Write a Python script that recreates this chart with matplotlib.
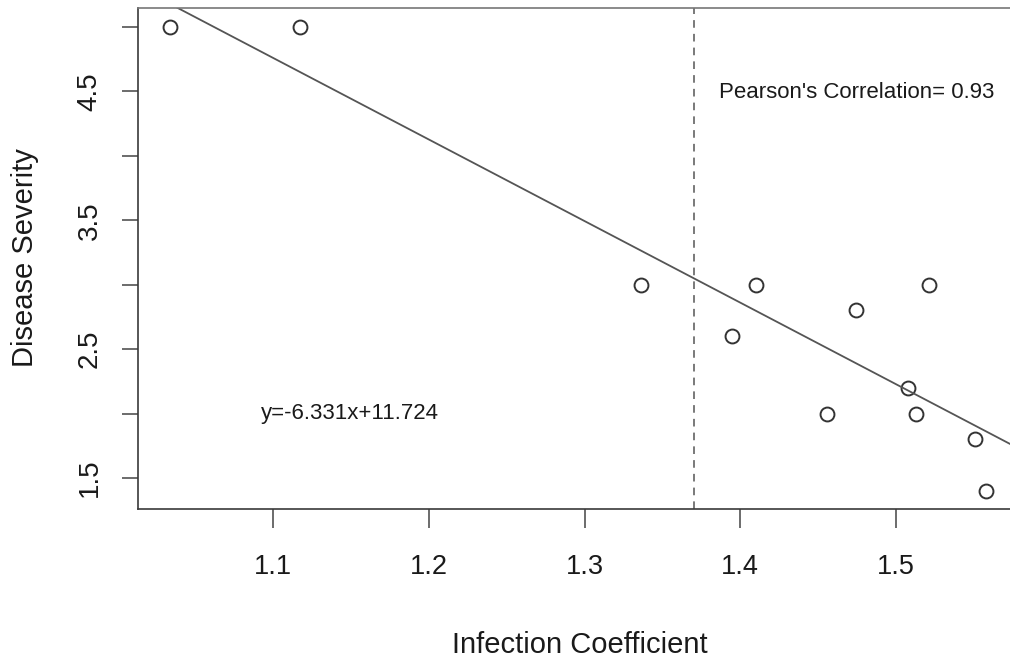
import matplotlib.pyplot as plt

plt.rcParams['font.family'] = ['Liberation Sans', 'DejaVu Sans']

# data
infection = [1.034, 1.117, 1.336, 1.395, 1.410, 1.456, 1.474, 1.508, 1.513, 1.521, 1.551, 1.558]
severity = [5.0, 5.0, 3.0, 2.6, 3.0, 2.0, 2.8, 2.2, 2.0, 3.0, 1.8, 1.4]

slope = -6.331
intercept = 11.724
cutoff = 1.37

x_ticks = [1.1, 1.2, 1.3, 1.4, 1.5]
y_ticks = [1.5, 2.0, 2.5, 3.0, 3.5, 4.0, 4.5, 5.0]
y_tick_labels = ["1.5", "", "2.5", "", "3.5", "", "4.5", ""]

text_color = "#1a1a1a"

fig = plt.figure(figsize=(10.1, 6.6), dpi=100)
ax = fig.add_axes([138 / 1010, 1 - 509 / 660, 872 / 1010, 501 / 660])

ax.set_xlim(1.0133, 1.5732)
ax.set_ylim(1.259, 5.147)

ax.plot(infection, severity, linestyle="none", marker="o",
        markersize=10, markerfacecolor="none", markeredgecolor="#333333",
        markeredgewidth=1.4)

# regression line (abline style)
xl = ax.get_xlim()
ax.plot(xl, [intercept + slope * x for x in xl], color="#555555", linewidth=1.3)
ax.set_xlim(xl)

ax.axvline(cutoff, color="#555555", linewidth=1.1, linestyle=(0, (5, 4)))

ax.text(1.475, 4.488, "Pearson's Correlation= 0.93", ha="center", va="center",
        fontsize=16, color=text_color)
ax.text(1.1494, 2.004, "y=-6.331x+11.724", ha="center", va="center",
        fontsize=16, color=text_color)

ax.set_xticks(x_ticks)
ax.set_xticklabels([f"{t:.1f}" for t in x_ticks])
ax.set_yticks(y_ticks)
ax.set_yticklabels(y_tick_labels, rotation=90, va="center")

ax.tick_params(axis="x", length=13.7, width=1.1, pad=19, labelsize=19.5,
               color="#444444", labelcolor=text_color)
ax.tick_params(axis="y", length=11.5, width=1.1, pad=14, labelsize=20,
               color="#444444", labelcolor=text_color)

ax.spines["right"].set_visible(False)
ax.spines["top"].set_color("#777777")
ax.spines["left"].set_color("#3a3a3a")
ax.spines["bottom"].set_color("#3a3a3a")
for s in ax.spines.values():
    s.set_linewidth(1.2)

ax.set_xlabel("Infection Coefficient", fontsize=21, color=text_color)
ax.xaxis.set_label_coords(0.507, -0.272)
ax.xaxis.label.set_va("center")

ax.set_ylabel("Disease Severity", fontsize=21, color=text_color)
ax.yaxis.set_label_coords(-0.13, 0.501)
ax.yaxis.label.set_va("center")
ax.yaxis.label.set_ha("center")

fig.savefig("out.png", dpi=100)
